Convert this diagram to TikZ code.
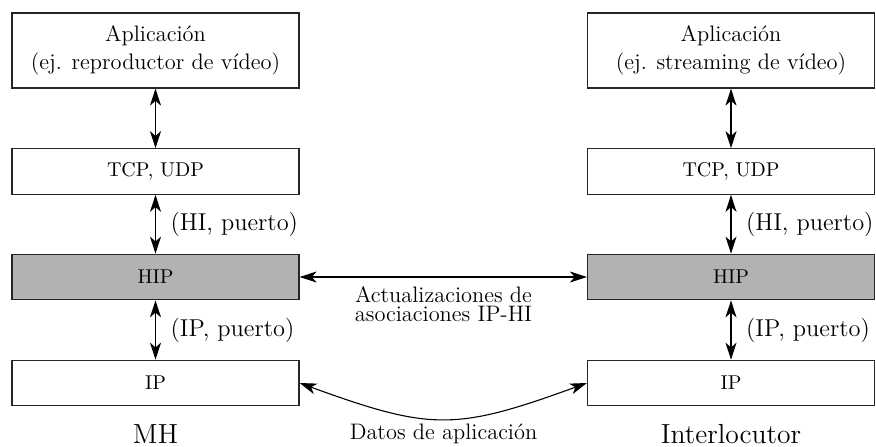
\documentclass[tikz,border=0pt]{standalone}
\usetikzlibrary{arrows.meta}
\begin{document}
\begin{tikzpicture}[x=0.5pt,y=0.5pt,
  layer/.style={draw=black!85, line width=0.6pt, minimum width=143.5pt,
    minimum height=22.75pt, inner sep=0pt, align=center,
    font=\fontsize{10}{12}\selectfont},
  applayer/.style={layer, minimum height=37.5pt,
    font=\fontsize{11.2}{14}\selectfont},
  hiplayer/.style={layer, fill=black!30},
  vlink/.style={{Stealth[length=8.5pt,width=5.5pt,inset=2.4pt]}-{Stealth[length=8.5pt,width=5.5pt,inset=2.4pt]}, line width=0.7pt},
  hlink/.style={{Stealth[length=8.5pt,width=5.5pt,inset=2.4pt]}-{Stealth[length=8.5pt,width=5.5pt,inset=2.4pt]}, line width=0.55pt},
  port/.style={anchor=west, xshift=7.2pt, inner sep=0pt,
    font=\fontsize{12.2}{14}\selectfont},
  host/.style={anchor=base, inner sep=0pt, font=\fontsize{13.8}{16}\selectfont},
  note/.style={inner sep=0pt, align=center, font=\fontsize{11.2}{9.6}\selectfont}]
\useasboundingbox (0,0) rectangle (876,-446);

% left stack (MH)
\node[applayer] (appL) at (155.5,-50.5) {Aplicación\\(ej. reproductor de vídeo)};
\node[layer]    (tcpL) at (155.5,-171.5) {TCP, UDP};
\node[hiplayer] (hipL) at (155.5,-277) {HIP};
\node[layer]    (ipL)  at (155.5,-383) {IP};
\node[host]     (mh)   at (155.5,-443) {MH};

% right stack (peer)
\node[applayer] (appR) at (731,-50.5) {Aplicación\\(ej. streaming de vídeo)};
\node[layer]    (tcpR) at (731,-171.5) {TCP, UDP};
\node[hiplayer] (hipR) at (731,-277) {HIP};
\node[layer]    (ipR)  at (731,-383) {IP};
\node[host]     (peer) at (731,-443) {Interlocutor};

% vertical links inside each stack
\draw[vlink] (appL.south) -- (tcpL.north);
\draw[vlink] (tcpL.south) -- node[port] {(HI, puerto)} (hipL.north);
\draw[vlink] (hipL.south) -- node[port] {(IP, puerto)} (ipL.north);
\draw[vlink] (appR.south) -- (tcpR.north);
\draw[vlink] (tcpR.south) -- node[port] {(HI, puerto)} (hipR.north);
\draw[vlink] (hipR.south) -- node[port] {(IP, puerto)} (ipR.north);

% links between the two hosts
\draw[hlink] (hipL.east) -- (hipR.west);
\node[note] (upd) at (443.5,-304) {Actualizaciones de\\asociaciones IP-HI};
\draw[hlink] (ipL.east) to[out=-20,in=200,looseness=1.25] (ipR.west);
\node[note, anchor=base] (data) at (443.5,-439) {Datos de aplicación};
\end{tikzpicture}
\end{document}
